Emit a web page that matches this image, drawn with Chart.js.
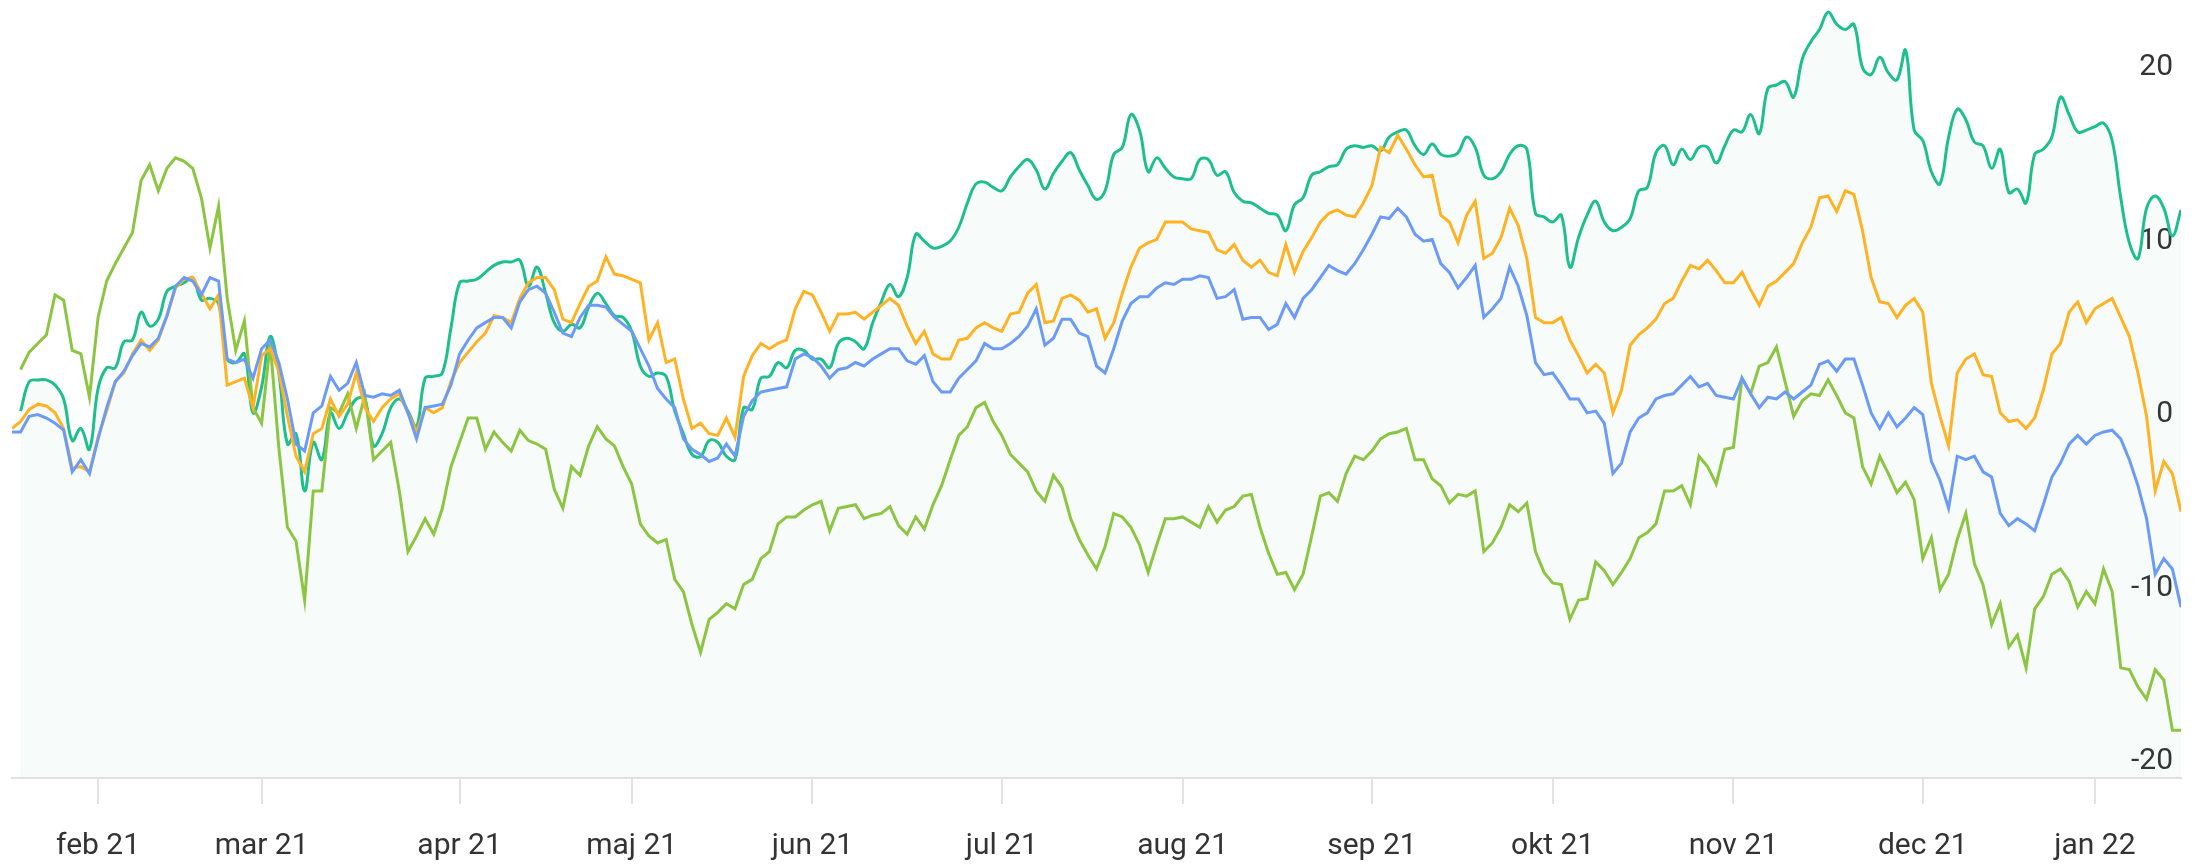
<!DOCTYPE html>
<html>
<head>
<meta charset="utf-8">
<script src="https://cdn.jsdelivr.net/npm/chart.js@4.4.1/dist/chart.umd.min.js"></script>
<style>
  html, body { margin: 0; padding: 0; background: #fff; }
  #wrap { width: 2198px; height: 865px; }
</style>
</head>
<body>
<div id="wrap"><canvas id="chart" width="2198" height="865"></canvas></div>
<script>
// x = trading day counted from mid january 2021
const monthLabels = ['feb 21', 'mar 21', 'apr 21', 'maj 21', 'jun 21', 'jul 21', 'aug 21', 'sep 21', 'okt 21', 'nov 21', 'dec 21', 'jan 22'];
const monthDays = [10, 29, 52, 72, 93, 115, 136, 158, 179, 200, 222, 242];
const yTicks = [-20, -10, 0, 10, 20];

const teal = [
  null, 0.2, 1.9, 2.0, 2.0, 1.7, 0.9, -1.5, -0.8, -2.0,
  1.5, 2.7, 2.7, 4.2, 4.3, 5.9, 5.1, 5.5, 7.1, 7.4,
  7.6, 7.9, 6.6, 6.7, 6.4, 3.2, 3.0, 3.5, 0.1, 1.6,
  4.5, 2.4, -1.7, -1.1, -4.4, -1.6, -2.6, 0.1, -0.8, 0.1,
  0.9, 0.9, -1.8, -1.1, 0.4, 0.9, 0.2, -0.7, 2.1, 2.2,
  2.4, 5.0, 7.6, 7.7, 7.8, 8.2, 8.6, 8.8, 8.8, 8.9,
  7.4, 8.5, 7.0, 5.3, 4.8, 5.2, 5.0, 6.2, 7.0, 6.4,
  5.7, 5.6, 4.8, 2.8, 2.2, 2.4, 2.2, 0.2, -1.1, -2.3,
  -2.4, -1.5, -1.6, -2.4, -2.6, 0.4, 0.3, 2.1, 2.2, 3.0,
  2.7, 3.7, 3.7, 3.2, 3.2, 2.7, 4.1, 4.4, 4.2, 3.8,
  5.3, 6.5, 7.5, 6.8, 7.9, 10.4, 10.0, 9.6, 9.7, 10.0,
  10.8, 12.2, 13.3, 13.4, 13.1, 12.9, 13.7, 14.3, 14.7, 14.1,
  13.0, 13.9, 14.6, 15.1, 14.1, 13.2, 12.4, 12.9, 15.0, 15.4,
  17.3, 16.4, 14.0, 14.8, 14.2, 13.7, 13.6, 13.6, 14.7, 14.7,
  13.8, 14.0, 12.8, 12.3, 12.2, 11.9, 11.6, 11.5, 10.6, 12.1,
  12.5, 13.8, 14.0, 14.3, 14.4, 15.3, 15.5, 15.4, 15.5, 15.2,
  16.0, 16.3, 16.4, 15.5, 15.0, 15.6, 15.0, 14.9, 15.1, 16.0,
  15.4, 13.8, 13.6, 14.0, 15.0, 15.5, 15.3, 11.6, 11.4, 11.1,
  11.5, 8.5, 10.2, 11.5, 12.3, 11.1, 10.6, 10.8, 11.3, 12.9,
  13.1, 15.1, 15.5, 14.4, 15.3, 14.7, 15.4, 15.4, 14.5, 15.5,
  16.4, 16.3, 17.3, 16.2, 18.8, 19.0, 19.2, 18.3, 20.5, 21.5,
  22.2, 23.2, 22.5, 22.2, 22.5, 20.0, 19.6, 20.6, 19.7, 19.3,
  21.0, 16.4, 15.8, 14.0, 13.3, 16.0, 17.6, 17.0, 15.7, 15.5,
  14.2, 15.3, 12.8, 13.0, 12.2, 15.0, 15.3, 16.0, 18.3, 17.3,
  16.3, 16.4, 16.6, 16.8, 15.8, 12.5, 9.9, 9.0, 11.9, 12.6,
  11.9, 10.3, 11.8
];

const orange = [
  -0.8, -0.4, 0.3, 0.6, 0.5, 0.1, -0.8, -3.1, -3.0, -3.3,
  -1.3, 0.2, 1.9, 2.4, 3.5, 4.3, 3.7, 4.3, 5.7, 7.3,
  7.8, 7.9, 7.0, 6.1, 6.9, 1.7, 1.9, 2.1, 0.4, 3.4,
  3.8, 2.5, -0.1, -2.4, -3.3, -1.1, -0.8, 0.9, -0.1, 0.6,
  2.4, 0.4, -0.4, 0.4, 0.9, 1.2, 0.1, -1.0, 0.4, 0.1,
  0.4, 1.9, 3.0, 3.6, 4.2, 4.7, 5.7, 5.6, 5.3, 6.7,
  7.6, 7.9, 7.9, 7.2, 5.5, 5.3, 6.4, 7.4, 7.7, 9.1,
  8.1, 8.0, 7.8, 7.6, 4.3, 5.3, 3.0, 3.2, 0.9, -0.8,
  -0.5, -1.1, -1.2, -0.2, -1.3, 2.2, 3.4, 4.1, 3.8, 4.1,
  4.3, 6.1, 7.1, 6.9, 5.9, 4.8, 5.8, 5.8, 5.9, 5.5,
  5.9, 6.3, 6.7, 6.3, 5.1, 4.1, 4.8, 3.5, 3.2, 3.2,
  4.3, 4.4, 5.0, 5.3, 5.0, 4.8, 5.8, 5.9, 7.0, 7.5,
  5.3, 5.4, 6.7, 6.9, 6.6, 5.9, 6.1, 4.4, 5.3, 7.0,
  8.5, 9.6, 9.9, 10.1, 11.1, 11.1, 11.1, 10.7, 10.6, 10.5,
  9.5, 9.3, 9.8, 8.9, 8.5, 8.9, 8.2, 8.0, 9.8, 8.2,
  9.4, 10.2, 11.1, 11.6, 11.8, 11.5, 11.4, 12.2, 13.2, 15.4,
  15.1, 16.1, 15.3, 14.4, 13.7, 13.8, 11.5, 11.1, 9.9, 11.5,
  12.3, 9.0, 9.3, 10.2, 11.9, 10.9, 9.0, 5.6, 5.3, 5.3,
  5.6, 4.3, 3.4, 2.4, 2.9, 2.4, 0.1, 1.4, 4.0, 4.6,
  5.0, 5.5, 6.4, 6.7, 7.7, 8.6, 8.4, 8.9, 8.3, 7.6,
  7.6, 8.2, 7.2, 6.3, 7.4, 7.7, 8.2, 8.7, 9.9, 10.8,
  12.5, 12.6, 11.7, 12.9, 12.7, 10.6, 7.9, 6.5, 6.4, 5.6,
  6.3, 6.7, 5.9, 1.8, -0.1, -1.8, 2.4, 3.2, 3.5, 2.3,
  2.2, 0.1, -0.4, -0.3, -0.8, -0.2, 1.4, 3.5, 4.1, 5.9,
  6.5, 5.3, 6.1, 6.4, 6.7, 5.6, 4.5, 2.4, -0.1, -4.4,
  -2.7, -3.4, -5.6
];

const blue = [
  -1.0, -1.0, -0.1, 0.0, -0.2, -0.5, -0.9, -3.3, -2.6, -3.4,
  -1.4, 0.4, 1.9, 2.5, 3.4, 4.1, 3.9, 4.4, 5.7, 7.4,
  7.9, 7.7, 6.9, 7.9, 7.7, 3.2, 3.0, 3.2, 2.1, 3.8,
  4.3, 3.0, 0.9, -1.7, -2.1, 0.1, 0.5, 2.2, 1.4, 1.8,
  3.0, 1.1, 1.0, 1.2, 1.1, 1.4, 0.1, -1.4, 0.4, 0.5,
  0.6, 1.7, 3.5, 4.3, 5.0, 5.3, 5.6, 5.6, 5.0, 6.5,
  7.2, 7.4, 7.0, 5.9, 4.7, 4.5, 5.6, 6.3, 6.3, 6.2,
  5.6, 5.2, 4.8, 3.8, 2.8, 1.5, 0.9, 0.4, -1.4, -2.0,
  -2.3, -2.7, -2.5, -1.7, -2.4, -0.1, 0.8, 1.3, 1.4, 1.5,
  1.6, 3.2, 3.5, 3.3, 2.8, 2.1, 2.6, 2.7, 3.0, 2.8,
  3.2, 3.5, 3.8, 3.8, 3.1, 2.9, 3.4, 1.9, 1.3, 1.3,
  2.1, 2.6, 3.1, 4.1, 3.8, 3.8, 4.1, 4.5, 5.1, 6.1,
  4.0, 4.4, 5.5, 5.5, 4.7, 4.5, 2.8, 2.4, 3.8, 5.4,
  6.4, 6.8, 6.8, 7.3, 7.6, 7.5, 7.8, 7.8, 8.0, 7.9,
  6.7, 6.8, 7.2, 5.5, 5.6, 5.6, 4.9, 5.2, 6.4, 5.6,
  6.7, 7.2, 7.9, 8.6, 8.3, 8.1, 8.7, 9.5, 10.4, 11.4,
  11.3, 11.9, 11.4, 10.4, 10.0, 10.1, 8.7, 8.2, 7.3, 7.9,
  8.6, 5.6, 6.1, 6.7, 8.5, 7.4, 5.7, 3.0, 2.3, 2.4,
  1.7, 0.9, 0.9, 0.1, 0.2, -0.5, -3.4, -2.8, -1.0, -0.2,
  0.1, 0.9, 1.1, 1.2, 1.7, 2.2, 1.6, 1.8, 1.1, 1.0,
  0.9, 2.1, 1.2, 0.4, 1.0, 0.9, 1.3, 0.9, 1.3, 1.7,
  2.9, 3.1, 2.5, 3.2, 3.2, 1.7, 0.1, -0.8, 0.1, -0.7,
  -0.2, 0.4, 0.0, -2.7, -3.8, -5.4, -2.4, -2.6, -2.4, -3.3,
  -3.6, -5.7, -6.4, -6.0, -6.3, -6.7, -5.2, -3.6, -2.8, -1.7,
  -1.2, -1.7, -1.2, -1.0, -0.9, -1.4, -2.6, -4.1, -6.0, -9.2,
  -8.3, -8.9, -11.1
];

const lime = [
  null, 2.6, 3.6, 4.1, 4.6, 6.9, 6.6, 3.7, 3.5, 1.0,
  5.6, 7.7, 8.7, 9.6, 10.5, 13.5, 14.4, 12.9, 14.2, 14.8,
  14.6, 14.2, 12.5, 9.6, 12.0, 6.7, 3.7, 5.4, 0.4, -0.5,
  4.1, -1.9, -6.5, -7.3, -10.7, -4.4, -4.4, 0.4, 0.1, 1.2,
  -0.8, 1.1, -2.6, -2.1, -1.6, -4.4, -7.9, -7.0, -6.0, -6.9,
  -5.4, -3.0, -1.6, -0.2, -0.2, -2.0, -1.0, -1.6, -2.1, -0.9,
  -1.5, -1.7, -2.0, -4.3, -5.4, -3.0, -3.5, -1.8, -0.7, -1.4,
  -1.8, -3.0, -4.0, -6.3, -7.0, -7.4, -7.2, -9.5, -10.2, -12.1,
  -13.7, -11.8, -11.4, -10.9, -11.2, -9.8, -9.5, -8.3, -7.9, -6.3,
  -5.9, -5.9, -5.5, -5.2, -5.0, -6.7, -5.4, -5.3, -5.2, -6.0,
  -5.8, -5.7, -5.3, -6.4, -6.9, -5.9, -6.6, -5.2, -4.1, -2.6,
  -1.2, -0.7, 0.4, 0.7, -0.4, -1.2, -2.3, -2.8, -3.3, -4.4,
  -5.0, -3.5, -4.2, -6.0, -7.2, -8.1, -8.9, -7.6, -5.7, -5.9,
  -6.5, -7.5, -9.1, -7.5, -6.0, -6.0, -5.9, -6.2, -6.5, -5.3,
  -6.2, -5.5, -5.3, -4.7, -4.6, -6.5, -8.0, -9.2, -9.1, -10.1,
  -9.2, -7.0, -4.7, -4.5, -5.0, -3.4, -2.4, -2.6, -2.1, -1.4,
  -1.1, -1.0, -0.8, -2.6, -2.6, -3.7, -4.1, -5.1, -4.6, -4.7,
  -4.4, -7.9, -7.4, -6.5, -5.2, -5.6, -5.1, -7.9, -9.1, -9.7,
  -9.8, -11.8, -10.7, -10.6, -8.5, -9.0, -9.8, -9.1, -8.3, -7.1,
  -6.8, -6.3, -4.4, -4.4, -4.1, -5.2, -2.4, -3.0, -4.0, -2.0,
  -1.9, 2.1, 1.2, 2.8, 3.0, 3.9, 1.9, -0.1, 0.8, 1.2,
  1.1, 2.0, 1.1, 0.1, -0.2, -3.0, -4.0, -2.4, -3.4, -4.5,
  -3.9, -4.9, -8.3, -7.1, -10.1, -9.2, -7.2, -5.7, -8.6, -9.8,
  -12.1, -10.9, -13.4, -12.7, -14.6, -11.2, -10.5, -9.2, -8.9, -9.6,
  -11.1, -10.2, -10.9, -8.9, -10.2, -14.6, -14.7, -15.7, -16.4, -14.7,
  -15.3, -18.2, -18.2
];

const days = teal.map((v, i) => i);
function points(vals) {
  return vals.map((v, i) => ({ x: days[i], y: v }));
}

Chart.defaults.font.family = 'Roboto';

new Chart(document.getElementById('chart'), {
  type: 'line',
  data: {
    datasets: [
      { data: points(blue), borderColor: '#6c9bf7', borderWidth: 3, pointRadius: 0, fill: false, tension: 0 },
      { data: points(orange), borderColor: '#ffb224', borderWidth: 3, pointRadius: 0, fill: false, tension: 0 },
      { data: points(lime), borderColor: '#8cc541', borderWidth: 3, pointRadius: 0, fill: false, tension: 0 },
      { data: points(teal), borderColor: '#1dbf8c', borderWidth: 3, pointRadius: 0, fill: 'start', backgroundColor: 'rgba(20, 160, 120, 0.035)', tension: 0.4 }
    ]
  },
  options: {
    responsive: false,
    animation: false,
    devicePixelRatio: 1,
    layout: { padding: { left: 12, right: 17, top: 0, bottom: 1 } },
    plugins: { legend: { display: false }, tooltip: { enabled: false } },
    scales: {
      x: {
        type: 'linear', min: 0, max: 252,
        grid: { drawOnChartArea: false, drawTicks: true, tickLength: 26, color: '#e2e2e2', lineWidth: 2 },
        border: { display: true, color: '#e2e2e2', width: 2 },
        afterBuildTicks: function (s) { s.ticks = monthDays.map(v => ({ value: v })); },
        afterFit: function (s) { s.height = 86; },
        ticks: {
          padding: 24, color: '#333', maxRotation: 0, autoSkip: false,
          font: { size: 30, family: 'Roboto' },
          callback: function (v) { return monthLabels[monthDays.indexOf(v)]; }
        }
      },
      y: {
        position: 'right', min: -20.95, max: 23.9,
        grid: { display: false, drawTicks: false },
        border: { display: false },
        afterBuildTicks: function (s) { s.ticks = yTicks.map(v => ({ value: v })); },
        afterFit: function (s) { s.width = 0; s.paddingTop = 0; s.paddingBottom = 0; },
        ticks: {
          mirror: true, padding: -8, color: '#333',
          font: { size: 30, family: 'Roboto' },
          callback: function (v) { return String(v); }
        }
      }
    }
  }
});
</script>
</body>
</html>
